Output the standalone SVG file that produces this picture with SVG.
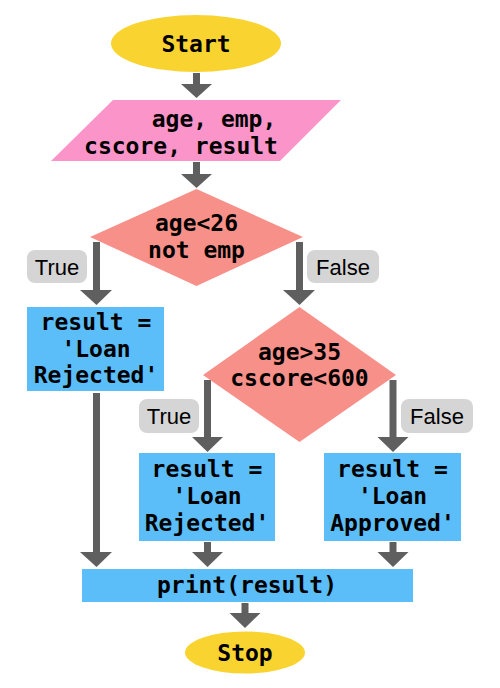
<svg xmlns="http://www.w3.org/2000/svg" width="500" height="688" viewBox="0 0 500 688">
<defs>
<style>
.code{font-family:"DejaVu Sans Mono","Liberation Mono",monospace;font-weight:bold;font-size:23px;fill:#000;text-anchor:middle}
.lbl{font-family:"Liberation Sans",Arial,sans-serif;font-size:22px;fill:#000;text-anchor:middle}
.lblbox{fill:#d5d5d5}
.term{fill:#f9d430}
.io{fill:#fb95c9}
.dec{fill:#f8908a}
.proc{fill:#5bbef9}
.shaft{stroke:#5f5f5f;stroke-width:7;fill:none}
.head{fill:#5f5f5f}
</style>
<marker id="ah" viewBox="0 0 32 15" refX="16" refY="15" markerWidth="32" markerHeight="15" markerUnits="userSpaceOnUse" orient="auto-start-reverse">
<path d="M0,0 L32,0 L16,15 Z" fill="#5f5f5f"/>
</marker>
</defs>
<rect width="500" height="688" fill="#fff"/>
<g id="connectors">
<path class="shaft" d="M196.5,73 V86"/><path class="head" d="M181,84 H212 L196.5,98 Z"/>
<path class="shaft" d="M196.5,162 V176"/><path class="head" d="M181,174 H212 L196.5,188 Z"/>
<path class="shaft" d="M96.5,242 V292"/><path class="head" d="M80,290 H112 L96.5,305 Z"/>
<path class="shaft" d="M299.5,242 V292"/><path class="head" d="M283,290 H315 L299.5,305 Z"/>
<path class="shaft" d="M207.5,380 V439"/><path class="head" d="M192,437 H223 L207.5,452 Z"/>
<path class="shaft" d="M393,380 V439"/><path class="head" d="M377.5,437 H408.5 L393,452 Z"/>
<path class="shaft" d="M96.5,393 V554"/><path class="head" d="M80,552 H112 L96.5,567 Z"/>
<path class="shaft" d="M207.5,542 V554"/><path class="head" d="M192,552 H223 L207.5,567 Z"/>
<path class="shaft" d="M393,542 V554"/><path class="head" d="M377.5,552 H408.5 L393,567 Z"/>
<path class="shaft" d="M245,603 V615"/><path class="head" d="M229.5,613 H260.5 L245,628 Z"/>
</g>
<g id="labels">
<rect class="lblbox" x="27" y="250" width="60" height="33" rx="8"/><text class="lbl" x="57" y="275">True</text>
<rect class="lblbox" x="307" y="250" width="72" height="33" rx="8"/><text class="lbl" x="343" y="275">False</text>
<rect class="lblbox" x="139" y="399" width="60" height="34" rx="8"/><text class="lbl" x="169" y="424">True</text>
<rect class="lblbox" x="401" y="399" width="72" height="34" rx="8"/><text class="lbl" x="437" y="424">False</text>
</g>
<g id="start">
<ellipse class="term" cx="196" cy="43.5" rx="85" ry="28.5"/>
<text class="code" x="196" y="52">Start</text>
</g>
<g id="input">
<polygon class="io" points="113,100 341,100 280,161 51,161"/>
<text class="code" x="214" y="127">age, emp,</text>
<text class="code" x="181" y="154">cscore, result</text>
</g>
<g id="decision1">
<polygon class="dec" points="196.5,189 303,237 196.5,286 90,237"/>
<text class="code" x="196.5" y="231">age&lt;26</text>
<text class="code" x="196.5" y="258">not emp</text>
</g>
<g id="rejected1">
<rect class="proc" x="27" y="307" width="137" height="84"/>
<text class="code" x="96" y="330">result =</text>
<text class="code" x="96" y="357">'Loan</text>
<text class="code" x="96" y="383">Rejected'</text>
</g>
<g id="decision2">
<polygon class="dec" points="299.5,307 396,375 299.5,442 203,375"/>
<text class="code" x="299.5" y="360">age&gt;35</text>
<text class="code" x="299.5" y="386">cscore&lt;600</text>
</g>
<g id="rejected2">
<rect class="proc" x="139" y="453" width="136" height="88"/>
<text class="code" x="207" y="477">result =</text>
<text class="code" x="207" y="504">'Loan</text>
<text class="code" x="207" y="531">Rejected'</text>
</g>
<g id="approved">
<rect class="proc" x="324" y="453" width="137" height="88"/>
<text class="code" x="392.5" y="477">result =</text>
<text class="code" x="392.5" y="504">'Loan</text>
<text class="code" x="392.5" y="531">Approved'</text>
</g>
<g id="print">
<rect class="proc" x="82" y="569" width="331" height="33"/>
<text class="code" x="247" y="593">print(result)</text>
</g>
<g id="stop">
<ellipse class="term" cx="245" cy="652.5" rx="60" ry="21"/>
<text class="code" x="245" y="661">Stop</text>
</g>
</svg>
